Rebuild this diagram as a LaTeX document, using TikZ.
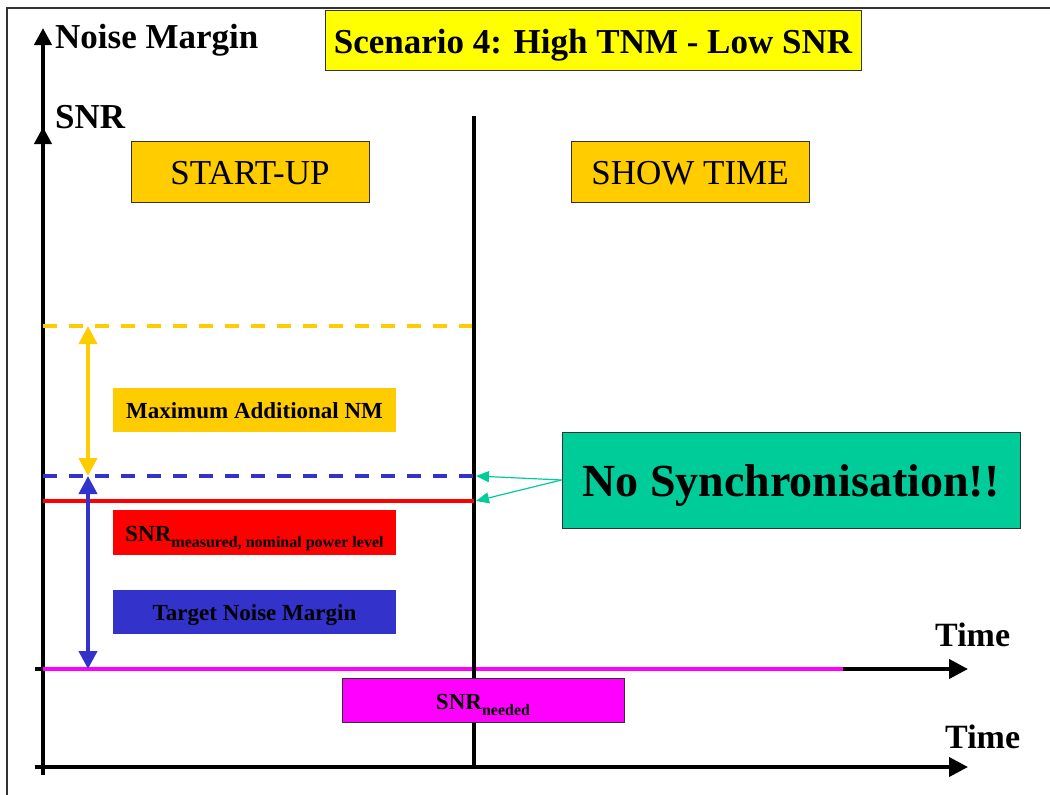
\documentclass[tikz,border=0pt]{standalone}
\usepackage{fontspec}
\setmainfont{Liberation Serif}
\usetikzlibrary{arrows.meta}
\definecolor{gold}{HTML}{FFCC00}
\definecolor{tnmblue}{HTML}{3333CC}
\definecolor{ttlyellow}{HTML}{FFFF00}
\definecolor{syncgreen}{HTML}{00CC99}
\definecolor{magx}{HTML}{FF00FF}
\definecolor{redx}{HTML}{FF0000}
\definecolor{edgex}{HTML}{333333}
\newcommand{\fs}[1]{\fontsize{#1}{#1}\selectfont}
\begin{document}
\begin{tikzpicture}[x=1pt,y=-1pt,
  axisline/.style={line width=4pt,black},
  axistipv/.style={-{Triangle[length=17pt,width=17pt]}},
  axistiph/.style={-{Triangle[length=19pt,width=19pt]}},
  lvl/.style={line width=3.5pt},
  dbl/.style={line width=4pt,{Triangle[length=18pt,width=18pt]}-{Triangle[length=18pt,width=18pt]}},
  pointer/.style={draw=syncgreen,line width=1.2pt,-{Triangle[length=13pt,width=11pt]}},
  boxbase/.style={rectangle,inner sep=0pt,align=center,font=\bfseries\fs{23},text height=16pt,text depth=0pt},
  bigbox/.style={rectangle,inner sep=0pt,align=center,draw=edgex,line width=1pt,text depth=0pt},
  axlabel/.style={anchor=base west,inner sep=0pt,font=\bfseries\fs{34}}
]
\useasboundingbox (0,0) rectangle (1050,795);
% page border
\draw[line width=1.2pt,edgex] (7,795) -- (7,8) -- (1050,8);

% axes
\draw[axisline,axistipv] (43,775) -- (43,28);
\draw[axisline,axistipv] (43,500) -- (43,127);
\draw[axisline,axistiph] (35,767) -- (968,767);
\draw[axisline,axistiph] (35,669) -- (968,669);
\draw[line width=4.5pt,magx] (43,669) -- (843,669);
\draw[axisline] (474,116) -- (474,767);

% boxes
\node[bigbox,fill=ttlyellow,minimum width=536pt,minimum height=60pt,font=\bfseries\fs{35},text height=26pt] (title) at (593,40) {Scenario 4: High TNM - Low SNR};
\node[bigbox,fill=gold,minimum width=238pt,minimum height=61pt,font=\fs{35},text height=25pt] (startup) at (250,172) {START-UP};
\node[bigbox,fill=gold,minimum width=238pt,minimum height=61pt,font=\fs{35},text height=25pt] (showtime) at (690,172) {SHOW TIME};
\node[boxbase,fill=gold,minimum width=283pt,minimum height=44pt] (maxnm) at (254.5,410) {Maximum Additional NM};
\node[boxbase,fill=redx,minimum width=283pt,minimum height=45pt,text height=18pt] (snrmeas) at (254.5,532.5) {SNR\raisebox{-6pt}[0pt][0pt]{\fs{16}measured, nominal power level}};
\node[boxbase,fill=tnmblue,minimum width=283pt,minimum height=44pt] (tnm) at (254.5,612) {Target Noise Margin};
\node[boxbase,draw=edgex,line width=1pt,fill=magx,minimum width=282pt,minimum height=44pt,text height=18pt] (snrneed) at (483,700) {SNR\raisebox{-6pt}[0pt][0pt]{\fs{16}needed}};
\node[bigbox,fill=syncgreen,minimum width=458pt,minimum height=96pt,font=\bfseries\fs{46},text height=33pt] (nosync) at (791,480) {No Synchronisation!!};

% levels
\coordinate (ytop) at (88,326);
\coordinate (bmid) at (88,476);
\coordinate (bbot) at (88,669);
\coordinate (dashY) at (474,476);
\coordinate (redY) at (474,501);
\draw[lvl,gold,dash pattern=on 14pt off 12pt] (43,326) -- (472,326);
\draw[lvl,tnmblue,dash pattern=on 14pt off 12pt] (43,476) -- (dashY);
\draw[lvl,redx] (43,501) -- (redY);
\draw[dbl,gold] (ytop) -- (bmid);
\draw[dbl,tnmblue] (bmid) -- (bbot);

% pointers
\draw[pointer] (nosync.west) -- ([xshift=2pt]dashY);
\draw[pointer] (nosync.west) -- ([xshift=2pt]redY);

% labels
\node[axlabel,font=\bfseries\fs{35}] (nmlabel) at (55,48) {Noise Margin};
\node[axlabel,font=\bfseries\fs{35}] (snrlabel) at (55,128) {SNR};
\node[axlabel] (time1) at (935,646) {Time};
\node[axlabel] (time2) at (945,748) {Time};
\end{tikzpicture}
\end{document}
